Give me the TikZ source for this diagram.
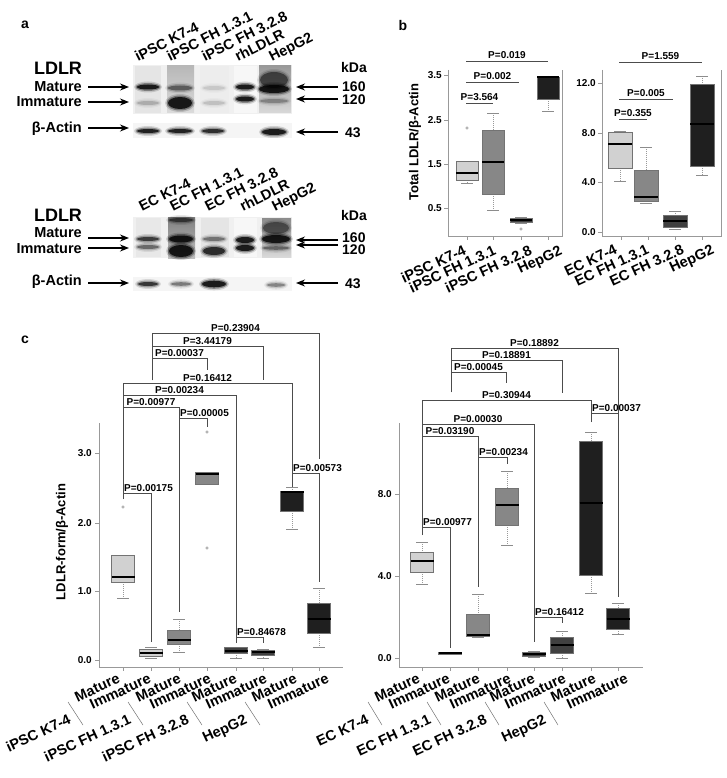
\documentclass[tikz,border=0pt]{standalone}
\usepackage{fontspec}
\setmainfont{Liberation Sans}
\usepackage{tikz}
\usetikzlibrary{arrows.meta}

\definecolor{boxA}{gray}{0.82}
\definecolor{boxB}{gray}{0.53}
\definecolor{boxC}{gray}{0.25}
\definecolor{boxD}{gray}{0.12}

\tikzstyle{panel} = [font=\fontsize{14}{16}\selectfont\bfseries, inner sep=0pt]
\tikzstyle{big} = [font=\fontsize{18}{20}\selectfont\bfseries, inner sep=0pt]
\tikzstyle{rowlab} = [font=\fontsize{14.5}{16}\selectfont\bfseries, inner sep=0pt, anchor=east, text height=10pt, text depth=0pt]
\tikzstyle{kda} = [font=\fontsize{14}{16}\selectfont\bfseries, inner sep=0pt, anchor=west, text height=10pt, text depth=0pt]
\tikzstyle{lane} = [font=\fontsize{14.5}{16}\selectfont\bfseries, inner sep=0pt, anchor=base west, rotate=27]
\tikzstyle{xlab} = [font=\fontsize{14.5}{16}\selectfont\bfseries, inner sep=0pt, anchor=base east, rotate=25]
\tikzstyle{ylab} = [font=\fontsize{13}{15}\selectfont\bfseries, inner sep=0pt, rotate=90]
\tikzstyle{ticklab} = [font=\fontsize{10}{12}\selectfont\bfseries, inner sep=0pt, anchor=east]
\tikzstyle{plab} = [font=\fontsize{10}{12}\selectfont\bfseries, inner sep=0pt, anchor=base]
\tikzstyle{axln} = [draw=black!40, line width=0.7pt]
\tikzstyle{whisk} = [draw=black!40, line width=0.6pt, dash pattern=on 1pt off 1pt]
\tikzstyle{capln} = [draw=black!45, line width=0.6pt]
\tikzstyle{boxln} = [draw=black!55, line width=0.5pt]
\tikzstyle{medln} = [draw=black, line width=1.2pt]
\tikzstyle{brk} = [draw=black!70, line width=0.8pt]
\tikzstyle{outl} = [draw=black!40, line width=0.5pt]
\tikzstyle{sepln} = [draw=black!55, line width=0.5pt]
\tikzstyle{arr} = [->, line width=1.3pt]

\newcommand{\hw}{11}
\newcommand{\bxp}[7]{%
  \draw[whisk] (#1,#2) -- (#1,#3);
  \draw[whisk] (#1,#5) -- (#1,#6);
  \draw[capln] (#1-6,#2) -- (#1+6,#2);
  \draw[capln] (#1-6,#6) -- (#1+6,#6);
  \filldraw[boxln, fill=#7] (#1-\hw,#3) rectangle (#1+\hw,#5);
  \draw[medln] (#1-\hw,#4) -- (#1+\hw,#4);
}
\newcommand{\outp}[2]{\draw[outl] (#1,#2) circle (1.3);}
\newcommand{\band}[5]{%
  \pgfmathsetmacro\bandhalo{0.15*#5}%
  \pgfmathsetmacro\bandout{0.35*#5}%
  \pgfmathsetmacro\bandin{0.8*#5}%
  \fill[black, opacity=\bandhalo] (#1,#2) ellipse ({#3+3} and {#4+3});
  \fill[black, opacity=\bandout] (#1,#2) ellipse ({#3+1.5} and {#4+1.5});
  \fill[black, opacity=\bandin] (#1,#2) ellipse (#3 and #4);
}
\newcommand{\pline}[5]{%
  \draw[brk] (#2,#4) -- (#3,#4);
  \node[plab] (#1) at ({(#2+#3)/2},#4-2.5) {#5};
}
\newcommand{\pbar}[7]{%
  \draw[brk] (#2,#5) -- (#2,#4) -- (#3,#4) -- (#3,#6);
  \node[plab] (#1) at ({(#2+#3)/2},#4-1.5) {#7};
}
\newcommand{\pbarl}[7]{%
  \draw[brk] (#2,#5) -- (#2,#4) -- (#3,#4) -- (#3,#6);
  \node[plab, anchor=base west] (#1) at (#2+1,#4-1.5) {#7};
}

\begin{document}
\begin{tikzpicture}[x=1pt, y=-1pt, >={Stealth[length=9pt,width=7pt]}]
\useasboundingbox (0,0) rectangle (727,778);

\node[panel] (pa) at (25,25) {a};
\node[panel] (pb) at (403,25) {b};
\node[panel] (pc) at (25,340) {c};

\fill[black!6] (133,65) rectangle (292,114);
\fill[black!10] (135,66) rectangle (161,113);
\shade[top color=black!28, bottom color=black!14] (167,66) rectangle (194,113);
\fill[black!7] (200,66) rectangle (229,113);
\fill[black!3] (234,66) rectangle (257,113);
\shade[top color=black!40, bottom color=black!15] (259,66) rectangle (291,113);
\band{148}{87}{11}{2.5}{1}
\band{148}{103}{11}{2}{0.2}
\band{180}{88}{12}{2.5}{0.5}
\band{180}{103}{12}{6}{1}
\band{214}{88}{11}{2}{0.12}
\band{214}{103}{11}{2}{0.15}
\band{245}{87}{9}{2.5}{1}
\band{245}{99}{9}{2.5}{1}
\band{274}{80}{14}{8}{0.6}
\band{274}{89}{15}{4}{1}
\band{274}{101}{14}{2}{0.3}
\fill[black!4] (133,123) rectangle (292,138);
\band{148}{131}{11}{2}{0.95}
\band{180}{131}{12}{2}{0.95}
\band{213}{131}{11}{2}{0.85}
\band{274}{132}{12}{3}{1}

\fill[black!6] (133,217) rectangle (292,258);
\fill[black!9] (136,218) rectangle (161,257);
\shade[top color=black!50, bottom color=black!25] (168,217) rectangle (195,258);
\fill[black!10] (201,218) rectangle (229,257);
\fill[black!3] (234,218) rectangle (257,257);
\shade[top color=black!45, bottom color=black!15] (262,218) rectangle (291,257);
\band{148}{239}{11}{2}{0.75}
\band{148}{247}{11}{2}{0.5}
\band{181}{220}{12}{2}{0.6}
\band{181}{239}{12}{3.5}{1}
\band{181}{251}{12}{6}{1}
\band{214}{239}{11}{2}{0.45}
\band{214}{251}{11}{4}{0.85}
\band{245}{240}{9}{3}{1}
\band{245}{248}{9}{3}{1}
\band{276}{228}{13}{6}{0.5}
\band{276}{239}{14}{4}{1}
\band{276}{248}{13}{1.8}{0.45}
\fill[black!4] (133,277) rectangle (292,291);
\band{148}{284}{10}{2}{0.8}
\band{181}{284}{10}{1.8}{0.45}
\band{214}{284}{12}{3.3}{1}
\band{276}{285}{9}{1.8}{0.4}

\foreach \x/\t [count=\i] in {138/iPSC K7-4,170/iPSC FH 1.3.1,205/iPSC FH 3.2.8,238/rhLDLR,272/HepG2}
  \node[lane] (la\i) at (\x,62) {\t};
\foreach \x/\t [count=\i] in {142/EC K7-4,173/EC FH 1.3.1,208/EC FH 3.2.8,243/rhLDLR,275/HepG2}
  \node[lane] (lb\i) at (\x,212) {\t};

\node[big] (ldlr1) at (58,68) {LDLR};
\node[rowlab] (mat1) at (82,87) {Mature};
\node[rowlab] (imm1) at (82,102) {Immature};
\node[rowlab] (act1) at (82,128) {β-Actin};
\node[kda] (kda1) at (341,68) {kDa};
\node[kda] (k160a) at (342,87) {160};
\node[kda] (k120a) at (342,100) {120};
\node[kda] (k43a) at (345,133) {43};
\node[big] (ldlr2) at (58,215) {LDLR};
\node[rowlab] (mat2) at (82,232) {Mature};
\node[rowlab] (imm2) at (82,248) {Immature};
\node[rowlab] (act2) at (82,280) {β-Actin};
\node[kda] (kda2) at (341,215) {kDa};
\node[kda] (k160b) at (342,237) {160};
\node[kda] (k120b) at (342,249) {120};
\node[kda] (k43b) at (345,283) {43};

\foreach \y [count=\i] in {87,102,128,238,248,283}{
  \coordinate (ls\i) at (88,\y);
  \coordinate (le\i) at (129,\y);
  \draw[arr] (ls\i) -- (le\i);
}
\foreach \y [count=\i] in {87,99,132,240,245,283}{
  \coordinate (rs\i) at (338,\y);
  \coordinate (re\i) at (296,\y);
  \draw[arr] (rs\i) -- (re\i);
}

\draw[axln] (448,70) -- (448,236) -- (562,236) -- (562,70);
\foreach \v/\y [count=\i] in {3.5/75,2.5/120,1.5/164,0.5/208}{
  \draw[axln] (444,\y) -- (448,\y);
  \node[ticklab] (bl\i) at (442,\y) {\v};
}
\foreach \x in {467,493,521,548} \draw[axln] (\x,236) -- (\x,240);
\bxp{467}{161}{161}{173}{180}{183}{boxA}
\outp{467}{128}
\bxp{493}{113}{130}{162}{194}{210}{boxB}
\bxp{521}{217}{218}{220}{222}{223}{boxC}
\outp{521}{229}
\bxp{548}{76}{77}{77}{99}{111}{boxD}
\pline{pb1}{466}{493}{103}{P=3.564}
\pline{pb2}{466}{519}{82}{P=0.002}
\pline{pb3}{466}{548}{61}{P=0.019}
\node[ylab] (bylab) at (415,142) {Total LDLR/β-Actin};
\foreach \x/\t [count=\i] in {467/iPSC K7-4,497/iPSC FH 1.3.1,533/iPSC FH 3.2.8,563/HepG2}
  \node[xlab] (bx\i) at (\x,254) {\t};

\renewcommand{\hw}{12}
\draw[axln] (602,70) -- (602,236) -- (721,236) -- (721,70);
\foreach \v/\y [count=\i] in {12.0/83,8.0/133,4.0/182,0.0/232}{
  \draw[axln] (598,\y) -- (602,\y);
  \node[ticklab] (br\i) at (596,\y) {\v};
}
\foreach \x in {621,648,675,702} \draw[axln] (\x,236) -- (\x,240);
\bxp{620}{131}{132}{144}{168}{181}{boxA}
\bxp{646}{147}{170}{197}{201}{203}{boxB}
\bxp{675}{211}{215}{221}{227}{229}{boxC}
\bxp{702}{76}{84}{124}{166}{175}{boxD}
\pline{pb4}{619}{647}{119}{P=0.355}
\pline{pb5}{619}{673}{99}{P=0.005}
\pline{pb6}{619}{702}{62}{P=1.559}
\foreach \x/\t [count=\i] in {618/EC K7-4,650/EC FH 1.3.1,685/EC FH 3.2.8,715/HepG2}
  \node[xlab] (bz\i) at (\x,253) {\t};

\renewcommand{\hw}{11.5}
\draw[axln] (99,423) -- (99,667) -- (343,667);
\foreach \v/\y [count=\i] in {3.0/453,2.0/523,1.0/591,0.0/660}{
  \draw[axln] (95,\y) -- (99,\y);
  \node[ticklab] (cl\i) at (92,\y) {\v};
}
\foreach \x in {123,151,179,207,236,263,292,319} \draw[axln] (\x,667) -- (\x,671);
\bxp{123}{555}{555}{577}{582}{598}{boxA}
\outp{123}{507}
\bxp{151}{647}{649}{653}{656}{658}{boxA}
\bxp{179}{619}{630}{640}{644}{652}{boxB}
\bxp{207}{472}{472}{474}{484}{484}{boxB}
\outp{207}{432}
\outp{207}{548}
\bxp{236}{647}{647}{651}{653}{658}{boxC}
\bxp{263}{649}{650}{652}{655}{658}{boxC}
\bxp{292}{487}{491}{492}{511}{529}{boxD}
\bxp{319}{588}{603}{619}{633}{647}{boxD}
\pbar{pc1}{152}{319}{333}{380}{459}{P=0.23904}
\pbar{pc2}{152}{263}{346}{380}{380}{P=3.44179}
\pbar{pc3}{152}{207}{358}{380}{370}{P=0.00037}
\pbar{pc4}{123}{292}{383}{493}{473}{P=0.16412}
\pbar{pc5}{123}{236}{395}{493}{637}{P=0.00234}
\pbar{pc6}{123}{179}{407}{493}{612}{P=0.00977}
\pbarl{pc7}{179}{207}{418}{418}{427}{P=0.00005}
\pbarl{pc8}{123}{151}{493}{499}{642}{P=0.00175}
\pbarl{pc9}{292}{319}{473}{487}{582}{P=0.00573}
\pbarl{pc10}{236}{263}{637}{643}{643}{P=0.84678}
\node[ylab] (cylab) at (62,542) {LDLR-form/β-Actin};
\foreach \x/\t [count=\i] in {121/Mature,152/Immature,182/Mature,212/Immature,238/Mature,268/Immature,298/Mature,330/Immature}
  \node[xlab] (cm\i) at (\x,682) {\t};
\foreach \x/\t [count=\i] in {72/iPSC K7-4,132/iPSC FH 1.3.1,190/iPSC FH 3.2.8,248/HepG2}
  \node[xlab] (cg\i) at (\x,723) {\t};
\foreach \x in {68,128,187,245} \draw[sepln] (\x,702) -- (\x+15,725);

\draw[axln] (399,423) -- (399,667) -- (643,667);
\foreach \v/\y [count=\i] in {8.0/494,4.0/576,0.0/658}{
  \draw[axln] (395,\y) -- (399,\y);
  \node[ticklab] (cr\i) at (392,\y) {\v};
}
\foreach \x in {422,450,478,507,534,562,591,618} \draw[axln] (\x,667) -- (\x,671);
\bxp{422}{542}{552}{561}{572}{584}{boxA}
\bxp{450}{652}{652.3}{653}{653.8}{654}{boxA}
\bxp{478}{594}{614}{635}{636}{637}{boxB}
\bxp{507}{471}{488}{505}{525}{545}{boxB}
\bxp{534}{651}{652}{654}{656}{657}{boxC}
\bxp{562}{631}{637}{645}{653}{658}{boxC}
\bxp{591}{432}{441}{503}{575}{593}{boxD}
\bxp{618}{603}{608}{619}{629}{634}{boxD}
\pbar{pd1}{451}{618}{348}{392}{413}{P=0.18892}
\pbar{pd2}{451}{562}{360}{392}{393}{P=0.18891}
\pbar{pd3}{451}{506}{372}{392}{383}{P=0.00045}
\pbar{pd4}{422}{591}{400}{527}{413}{P=0.30944}
\pbarl{pd5}{591}{618}{413}{422}{597}{P=0.00037}
\pbar{pd6}{422}{534}{424}{527}{642}{P=0.00030}
\pbar{pd7}{422}{478}{436}{527}{587}{P=0.03190}
\pbarl{pd8}{478}{507}{457}{457}{464}{P=0.00234}
\pbarl{pd9}{422}{450}{527}{535}{648}{P=0.00977}
\pbarl{pd10}{534}{562}{617}{617}{623}{P=0.16412}
\foreach \x/\t [count=\i] in {421/Mature,451/Immature,481/Mature,512/Immature,536/Mature,567/Immature,597/Mature,629/Immature}
  \node[xlab] (dm\i) at (\x,682) {\t};
\foreach \x/\t [count=\i] in {370/EC K7-4,432/EC FH 1.3.1,488/EC FH 3.2.8,547/HepG2}
  \node[xlab] (dg\i) at (\x,723) {\t};
\foreach \x in {368,427,485,544} \draw[sepln] (\x,702) -- (\x+14,725);
\end{tikzpicture}
\end{document}
